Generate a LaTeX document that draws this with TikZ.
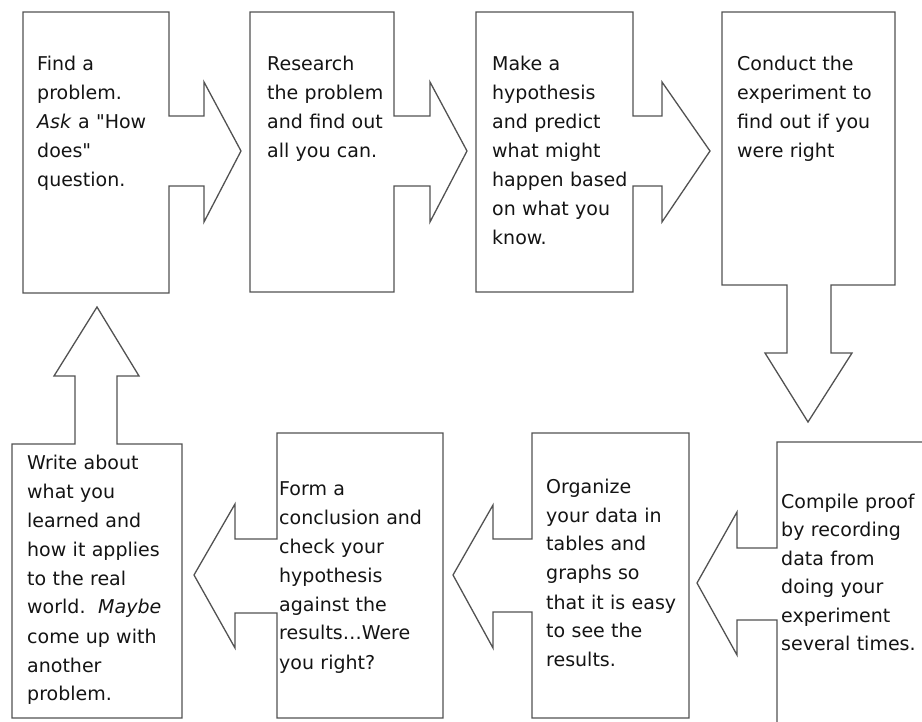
\documentclass[tikz,border=0pt]{standalone}
\usepackage{fontspec}
\setmainfont{DejaVu Sans}[Ligatures=TeXOff]
\begin{document}
\begin{tikzpicture}[x=1pt,y=-1pt,
  shapeline/.style={draw=black!68, line width=1.3pt, line join=miter, fill=white},
  txt/.style={anchor=base west, inner sep=0pt, align=left, text width=170pt,
    font=\fontsize{19}{29}\selectfont, text=black!92}]
\useasboundingbox (0,0) rectangle (922,722);
\clip (0,0) rectangle (922,722);
% top row: boxes with right arrows
\draw[shapeline] (23,12) -- (169,12) -- (169,116) -- (204,116) -- (204,82) -- (241,151)
  -- (204,222) -- (204,186) -- (169,186) -- (169,293) -- (23,293) -- cycle;
\draw[shapeline] (250,12) -- (394,12) -- (394,116) -- (430,116) -- (430,82) -- (467,151)
  -- (430,222) -- (430,186) -- (394,186) -- (394,292) -- (250,292) -- cycle;
\draw[shapeline] (476,12) -- (633,12) -- (633,116) -- (662,116) -- (662,82) -- (710,151)
  -- (662,222) -- (662,186) -- (633,186) -- (633,292) -- (476,292) -- cycle;
% right column: box with down arrow
\draw[shapeline] (722,12) -- (895,12) -- (895,285) -- (831,285) -- (831,353) -- (852,353)
  -- (808,422) -- (765,353) -- (787,353) -- (787,285) -- (722,285) -- cycle;
% bottom row: boxes with left arrows
\draw[shapeline] (777,442) -- (935,442) -- (935,735) -- (777,735) -- (777,620) -- (737,620)
  -- (737,655) -- (697,583) -- (737,512) -- (737,548) -- (777,548) -- cycle;
\draw[shapeline] (532,433) -- (689,433) -- (689,718) -- (532,718) -- (532,612) -- (493,612)
  -- (493,648) -- (453,575) -- (493,505) -- (493,539) -- (532,539) -- cycle;
\draw[shapeline] (277,433) -- (443,433) -- (443,718) -- (277,718) -- (277,613) -- (235,613)
  -- (235,648) -- (194,575) -- (235,504) -- (235,539) -- (277,539) -- cycle;
% left column: box with up arrow
\draw[shapeline] (12,444) -- (75,444) -- (75,376) -- (54,376) -- (97,307) -- (139,376)
  -- (117,376) -- (117,444) -- (182,444) -- (182,718) -- (12,718) -- cycle;
% texts
\node[txt] (t1) at (37,71) {Find a\\problem.\\\textit{Ask} a "How\\does"\\question.};
\node[txt] (t2) at (267,71) {Research\\the problem\\and find out\\all you can.};
\node[txt] (t3) at (492,71) {Make a\\hypothesis\\and predict\\what might\\happen based\\on what you\\know.};
\node[txt] (t4) at (737,71) {Conduct the\\experiment to\\find out if you\\were right};
\node[txt, font=\fontsize{19}{28.5}\selectfont] (t5) at (781,508) {Compile proof\\by recording\\data from\\doing your\\experiment\\several times.};
\node[txt] (t6) at (546,493) {Organize\\your data in\\tables and\\graphs so\\that it is easy\\to see the\\results.};
\node[txt] (t7) at (279,495) {Form a\\conclusion and\\check your\\hypothesis\\against the\\results…Were\\you right?};
\node[txt] (t8) at (27,469) {Write about\\what you\\learned and\\how it applies\\to the real\\world.\ \ \textit{Maybe}\\come up with\\another\\problem.};
\end{tikzpicture}
\end{document}
